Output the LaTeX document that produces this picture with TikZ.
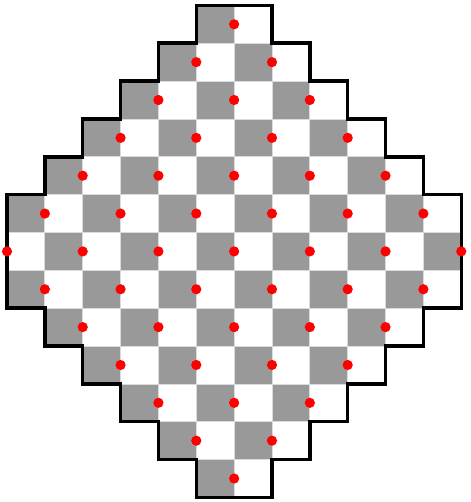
\documentclass[tikz,border=0pt]{standalone}
\begin{document}
\begin{tikzpicture}[cell/.style={draw=black!14,line width=0.6pt},
    rim/.style={line width=2.6pt},
    spot/.style={fill=red}]
  \useasboundingbox (-0.185,-0.12) rectangle (12.232,13.142);
  % checkerboard, row by row (half width of each row)
  \foreach \r/\h in {0/1,1/2,2/3,3/4,4/5,5/6,6/6,7/6,8/5,9/4,10/3,11/2,12/1} {
    \pgfmathtruncatemacro\lo{6-\h}
    \pgfmathtruncatemacro\hi{5+\h}
    \foreach \c in {\lo,...,\hi} {
      \ifodd\numexpr\r+\c\relax \def\shade{black!40}\else\def\shade{white}\fi
      \filldraw[cell,fill=\shade] (\c,12-\r) rectangle ++(1,1);
    }
  }
  % outline
  \draw[rim] (5,13) -- (7,13)
    \foreach \i in {1,...,5} { -- ++(0,-1) -- ++(1,0) } -- ++(0,-3)
    \foreach \i in {1,...,5} { -- ++(-1,0) -- ++(0,-1) } -- ++(-2,0)
    \foreach \i in {1,...,5} { -- ++(0,1) -- ++(-1,0) } -- ++(0,3)
    \foreach \i in {1,...,5} { -- ++(1,0) -- ++(0,1) } -- cycle;
  % red points
  \foreach \r in {0,...,12} {
    \pgfmathtruncatemacro\m{min(\r,12-\r)}
    \foreach \k in {0,...,\m} {
      \fill[spot] ({6-\m+2*\k},12.5-\r) circle (0.135);
    }
  }
\end{tikzpicture}
\end{document}
